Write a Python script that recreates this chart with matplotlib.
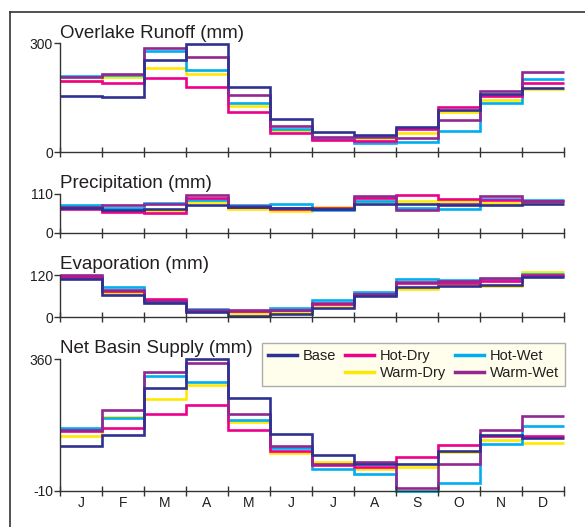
import matplotlib
matplotlib.use("Agg")
import matplotlib.pyplot as plt
from matplotlib.lines import Line2D
import numpy as np

plt.rcParams['font.family'] = ['Liberation Sans', 'DejaVu Sans']
plt.rcParams['axes.unicode_minus'] = False

months = ['J', 'F', 'M', 'A', 'M', 'J', 'J', 'A', 'S', 'O', 'N', 'D']
scenarios = ['Base', 'Hot-Dry', 'Hot-Wet', 'Warm-Dry', 'Warm-Wet']

# overlake runoff (mm)
runoff_base = [156, 153, 254, 299, 181, 91, 57, 48, 71, 117, 161, 178]
runoff_hotdry = [197, 190, 204, 179, 110, 54, 34, 31, 64, 125, 154, 190]
runoff_hotwet = [211, 212, 279, 226, 136, 65, 36, 27, 29, 60, 137, 203]
runoff_warmdry = [196, 207, 233, 216, 129, 60, 38, 33, 53, 111, 145, 174]
runoff_warmwet = [207, 216, 288, 262, 157, 74, 43, 42, 40, 90, 170, 222]

# precipitation (mm)
precip_base = [70, 64, 66, 77, 73, 70, 66, 82, 82, 77, 78, 80]
precip_hotdry = [68, 58, 57, 98, 72, 67, 70, 97, 107, 94, 92, 88]
precip_hotwet = [78, 70, 84, 93, 79, 80, 63, 89, 70, 68, 96, 93]
precip_warmdry = [72, 61, 61, 85, 67, 61, 72, 90, 88, 88, 84, 85]
precip_warmwet = [72, 78, 82, 105, 76, 71, 68, 103, 65, 82, 104, 90]

# evaporation (mm)
evap_base = [109, 63, 42, 15, 4, 9, 26, 60, 86, 91, 93, 116]
evap_hotdry = [117, 75, 53, 20, 19, 21, 38, 68, 98, 98, 105, 122]
evap_hotwet = [115, 88, 46, 24, 17, 27, 51, 74, 109, 107, 109, 125]
evap_warmdry = [113, 71, 45, 18, 12, 15, 34, 67, 80, 95, 90, 130]
evap_warmwet = [121, 79, 48, 20, 22, 22, 42, 68, 101, 103, 112, 118]

# net basin supply (mm)
nbs_base = [116, 148, 278, 360, 250, 150, 91, 66, 64, 101, 148, 138]
nbs_hotdry = [158, 166, 207, 231, 160, 103, 62, 58, 84, 119, 143, 143]
nbs_hotwet = [167, 196, 313, 297, 188, 111, 51, 37, -10, 13, 122, 171]
nbs_warmdry = [143, 198, 247, 287, 183, 97, 72, 51, 56, 98, 133, 125]
nbs_warmwet = [160, 218, 323, 349, 205, 117, 64, 70, -1, 66, 160, 199]

colors = {'Base': '#2E3192', 'Hot-Dry': '#EC008C', 'Hot-Wet': '#00AEEF',
          'Warm-Dry': '#FFE800', 'Warm-Wet': '#92278F'}
draw_order = ['Warm-Dry', 'Hot-Wet', 'Hot-Dry', 'Warm-Wet', 'Base']
txt = '#231F20'

W, H = 585, 527
fig = plt.figure(figsize=(W / 100, H / 100), dpi=100)

# panel: title, series, y range, (top px, bottom px), title baseline px
panels = [
    ("Overlake Runoff (mm)",
     dict(zip(scenarios, [runoff_base, runoff_hotdry, runoff_hotwet, runoff_warmdry, runoff_warmwet])),
     (0, 300), (43.3, 152.5), 38),
    ("Precipitation (mm)",
     dict(zip(scenarios, [precip_base, precip_hotdry, precip_hotwet, precip_warmdry, precip_warmwet])),
     (0, 110), (193.5, 233), 188),
    ("Evaporation (mm)",
     dict(zip(scenarios, [evap_base, evap_hotdry, evap_hotwet, evap_warmdry, evap_warmwet])),
     (0, 120), (275.5, 317.3), 269),
    ("Net Basin Supply (mm)",
     dict(zip(scenarios, [nbs_base, nbs_hotdry, nbs_hotwet, nbs_warmdry, nbs_warmwet])),
     (-10, 360), (359.3, 490.7), 353),
]

x_left, x_right = 60, 564
edges = np.arange(13)
axes = []
for i, (title, series, (ymin, ymax), (top, bot), tb) in enumerate(panels):
    ax = fig.add_axes([x_left / W, 1 - bot / H, (x_right - x_left) / W, (bot - top) / H])
    axes.append(ax)
    for name in draw_order:
        ax.stairs(series[name], edges, baseline=None, color=colors[name], lw=1.9, clip_on=False)
    ax.set_xlim(0, 12)
    ax.set_ylim(ymin, ymax)
    ax.set_yticks([ymin, ymax])
    ax.set_xticks(edges)
    ax.set_xticklabels([])
    for s in ['top', 'right']:
        ax.spines[s].set_visible(False)
    for s in ['left', 'bottom']:
        ax.spines[s].set_color('#333333')
        ax.spines[s].set_linewidth(1.0)
    ax.tick_params(axis='x', which='major', direction='inout', length=7, width=1.0, color='#333333')
    ax.tick_params(axis='y', direction='out', length=4, width=1.0, color='#333333',
                   labelsize=10, labelcolor=txt, pad=1)
    ax.patch.set_visible(False)
    fig.text(x_left / W, 1 - tb / H, title, fontsize=13.5, color=txt, va='baseline', ha='left')

ax = axes[-1]
ax.set_xticks(np.arange(12) + 0.5, minor=True)
ax.set_xticklabels(months, minor=True)
ax.tick_params(axis='x', which='minor', length=0, labelsize=10, labelcolor=txt, pad=4)

# legend: blank slot under Base so the columns read like the original
handles = [Line2D([], [], color=colors['Base'], lw=2.5), Line2D([], [], color='none'),
           Line2D([], [], color=colors['Hot-Dry'], lw=2.5), Line2D([], [], color=colors['Warm-Dry'], lw=2.5),
           Line2D([], [], color=colors['Hot-Wet'], lw=2.5), Line2D([], [], color=colors['Warm-Wet'], lw=2.5)]
labels = ['Base', '', 'Hot-Dry', 'Warm-Dry', 'Hot-Wet', 'Warm-Wet']
leg = fig.legend(handles, labels, ncol=3, loc='upper right',
                 bbox_to_anchor=(565 / W, 1 - 343 / H), bbox_transform=fig.transFigure,
                 fontsize=10.5, frameon=True, fancybox=False, handlelength=2.0,
                 handletextpad=0.4, columnspacing=0.6, labelspacing=0.25,
                 borderpad=0.4, borderaxespad=0)
leg.get_frame().set_facecolor('#FFFDE8')
leg.get_frame().set_edgecolor('#999999')
leg.get_frame().set_linewidth(1.0)
for t in leg.get_texts():
    t.set_color(txt)

# outer frame: top and left rules
fig.add_artist(Line2D([10 / W, 1], [1 - 12 / H, 1 - 12 / H], transform=fig.transFigure,
                      color='#333333', lw=1.2))
fig.add_artist(Line2D([10 / W, 10 / W], [0, 1 - 12 / H], transform=fig.transFigure,
                      color='#333333', lw=1.2))

fig.savefig('out.png', dpi=100)
